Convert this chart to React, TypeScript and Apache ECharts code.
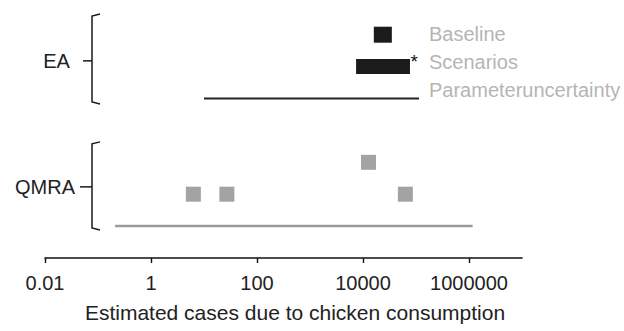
import React, { useEffect, useRef } from "react";
import * as echarts from "echarts";

// Tick values on the logarithmic x axis
const tickValues = [0.01, 1, 100, 10000, 1000000];

// Group labels on the left
const groupNames = ["EA", "QMRA"];

// EA estimates (ranges of cases)
const eaBaseline = [16000, 35000];
const eaScenarios = [7400, 77000];
const eaParameterUncertainty = [10, 114000];

// QMRA point estimates and parameter uncertainty range
const qmraEstimates = [6.3, 27, 12700, 63000];
const qmraParameterUncertainty = [0.21, 1170000];

// Legend-like annotations next to the EA rows
const legendNames = ["Baseline", "Scenarios", "Parameteruncertainty"];

// ---- layout (y axis is an abstract lane scale 0..8) ----
const FONT = "'Liberation Sans', Arial, Helvetica, sans-serif";
const LANE_BASELINE = 7;
const LANE_SCENARIOS = 6;
const LANE_PARAMETER = 5;
const LANE_QMRA_LINE = 1;
const qmraLanes = [2, 2, 3, 2];
const legendLanes = [7.03, 6.13, 5.28];
const bracketLanes = [
  { top: 7.65, mid: 6.18, bottom: 4.83, tickLeft: 83, labelX: 56.5 },
  { top: 3.64, mid: 2.23, bottom: 0.88, tickLeft: 80, labelX: 45 },
];
const BRACKET_X = 92;
const LEGEND_X = 429;

function formatTick(v: number): string {
  if (v >= 1) return String(Math.round(v));
  return String(+v.toPrecision(2));
}

export default function App() {
  const ref = useRef<HTMLDivElement>(null);

  useEffect(() => {
    if (!ref.current) return;
    const chart = echarts.init(ref.current, undefined, { renderer: "svg" });

    const rangeBars = [
      [eaBaseline[0], eaBaseline[1], LANE_BASELINE, 16],
      [eaScenarios[0], eaScenarios[1], LANE_SCENARIOS, 15],
    ];

    const option: echarts.EChartsOption = {
      animation: false,
      backgroundColor: "#ffffff",
      grid: { left: 45, right: 102, top: 2.8, bottom: 73, containLabel: false },
      xAxis: {
        type: "log",
        logBase: 10,
        min: 0.01,
        max: 1e7,
        axisLine: { show: true, lineStyle: { color: "#111", width: 1.6 } },
        axisTick: {
          show: true,
          length: 5,
          customValues: tickValues,
          lineStyle: { color: "#111", width: 1.4 },
        } as any,
        axisLabel: {
          customValues: tickValues,
          formatter: (v: number) => formatTick(v),
          fontFamily: FONT,
          fontSize: 20,
          color: "#222",
          margin: 15,
        } as any,
        splitLine: { show: false },
        minorTick: { show: false },
        name: "Estimated cases due to chicken consumption",
        nameLocation: "middle",
        nameGap: 44,
        nameTextStyle: {
          fontFamily: FONT,
          fontSize: 21,
          color: "#222",
          padding: [0, 0, 0, 23],
        },
      },
      yAxis: {
        type: "value",
        min: 0,
        max: 8,
        show: false,
      },
      series: [
        // EA baseline and scenario ranges
        {
          type: "custom",
          name: "EA ranges",
          encode: { x: [0, 1], y: 2 },
          clip: false,
          renderItem: (params: any, api: any) => {
            const lo = api.coord([api.value(0), api.value(2)]);
            const hi = api.coord([api.value(1), api.value(2)]);
            const h = api.value(3);
            const children: any[] = [
              {
                type: "rect",
                shape: { x: lo[0], y: lo[1] - h / 2, width: hi[0] - lo[0], height: h },
                style: { fill: "#1b1b1b" },
              },
            ];
            if (params.dataIndex === 1) {
              children.push({
                type: "text",
                style: {
                  x: hi[0] + 0.5,
                  y: lo[1] - h / 2 - 7,
                  text: "*",
                  fontFamily: FONT,
                  fontSize: 19,
                  fill: "#111",
                  align: "left",
                  verticalAlign: "top",
                },
              });
            }
            return { type: "group", children };
          },
          data: rangeBars,
        },
        // EA parameter uncertainty
        {
          type: "line",
          name: "EA parameter uncertainty",
          symbol: "none",
          lineStyle: { color: "#222", width: 2 },
          data: [
            [eaParameterUncertainty[0], LANE_PARAMETER],
            [eaParameterUncertainty[1], LANE_PARAMETER],
          ],
        },
        // QMRA point estimates
        {
          type: "scatter",
          name: "QMRA",
          symbol: "rect",
          symbolSize: 15,
          itemStyle: { color: "#8c8c90" },
          data: qmraEstimates.map((v, i) => [v, qmraLanes[i]]),
        },
        // QMRA parameter uncertainty
        {
          type: "line",
          name: "QMRA parameter uncertainty",
          symbol: "none",
          lineStyle: { color: "#9a9a9e", width: 2.5 },
          data: [
            [qmraParameterUncertainty[0], LANE_QMRA_LINE],
            [qmraParameterUncertainty[1], LANE_QMRA_LINE],
          ],
        },
        // Group brackets with labels
        {
          type: "custom",
          name: "groups",
          clip: false,
          silent: true,
          renderItem: (params: any, api: any) => {
            const b = bracketLanes[params.dataIndex];
            const yTop = api.coord([1, b.top])[1];
            const yMid = api.coord([1, b.mid])[1];
            const yBot = api.coord([1, b.bottom])[1];
            const stroke = { stroke: "#1a1a1a", lineWidth: 1.5, fill: null };
            return {
              type: "group",
              children: [
                {
                  type: "polyline",
                  shape: {
                    points: [
                      [BRACKET_X + 8, yTop],
                      [BRACKET_X, yTop + 2],
                      [BRACKET_X, yBot - 2],
                      [BRACKET_X + 8, yBot],
                    ],
                    smooth: 0,
                  },
                  style: stroke,
                },
                {
                  type: "line",
                  shape: { x1: b.tickLeft, y1: yMid, x2: BRACKET_X, y2: yMid },
                  style: stroke,
                },
                {
                  type: "text",
                  style: {
                    x: b.labelX,
                    y: yMid,
                    text: groupNames[params.dataIndex],
                    fontFamily: FONT,
                    fontSize: 20,
                    fill: "#222",
                    align: "center",
                    verticalAlign: "middle",
                  },
                },
              ],
            };
          },
          data: groupNames.map((_, i) => [i]),
        },
        // Grey annotations next to the EA rows
        {
          type: "custom",
          name: "annotations",
          clip: false,
          silent: true,
          renderItem: (params: any, api: any) => {
            const y = api.coord([1, legendLanes[params.dataIndex]])[1];
            return {
              type: "text",
              style: {
                x: LEGEND_X,
                y,
                text: legendNames[params.dataIndex],
                fontFamily: FONT,
                fontSize: 20,
                fill: "#b5b5b5",
                align: "left",
                verticalAlign: "middle",
              },
            };
          },
          data: legendNames.map((_, i) => [i]),
        },
      ],
    };

    chart.setOption(option);
    return () => chart.dispose();
  }, []);

  return (
    <div
      ref={ref}
      style={{ position: "fixed", left: 0, top: 0, width: 624, height: 331, background: "#fff" }}
    />
  );
}
